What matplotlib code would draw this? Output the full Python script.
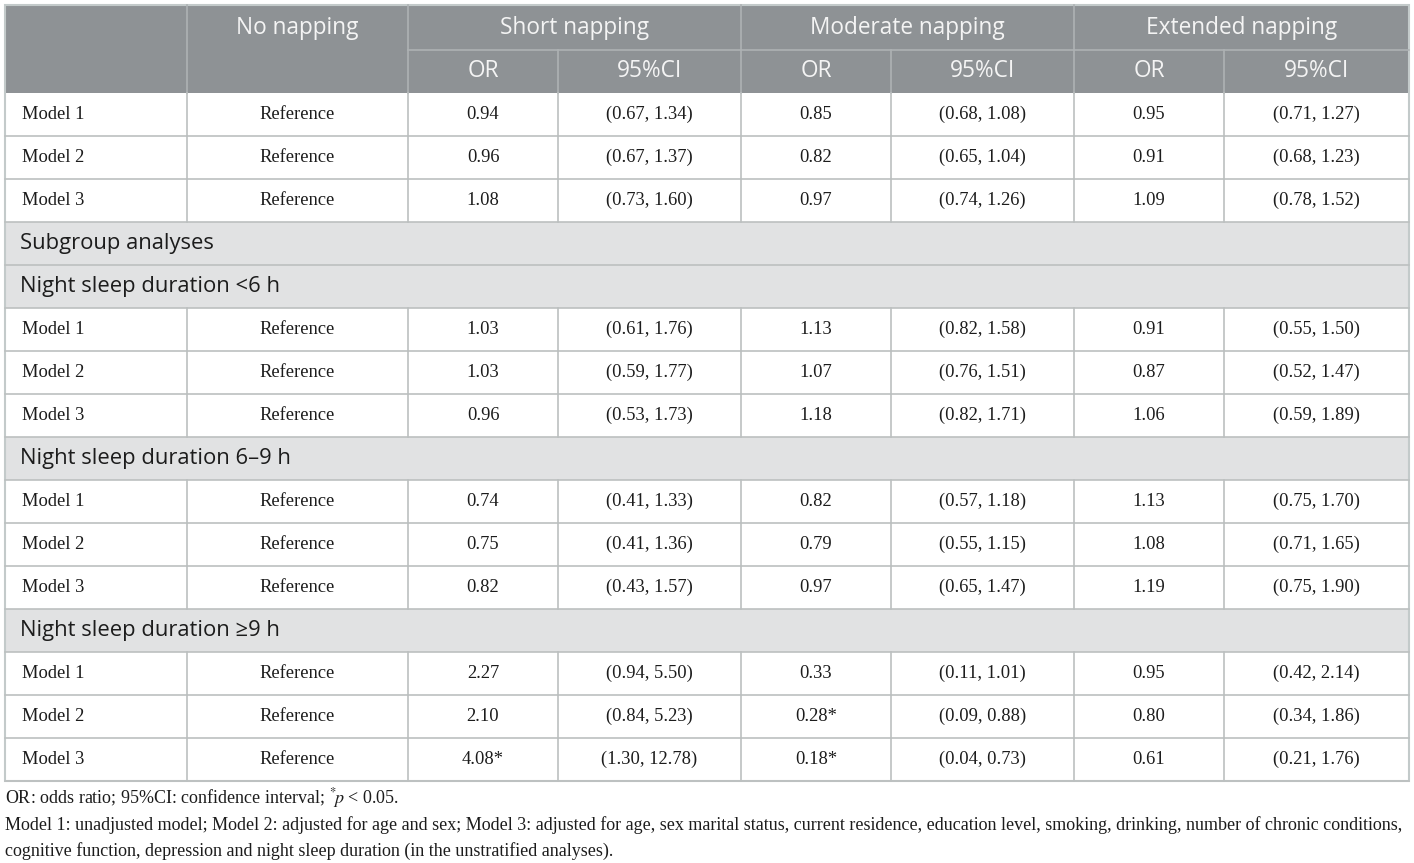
import matplotlib.pyplot as plt
from matplotlib.patches import Rectangle

plt.rcParams['mathtext.fontset'] = 'stix'

# ---- table content ----
groups = ['No napping', 'Short napping', 'Moderate napping', 'Extended napping']
sub_headers = ['OR', '95%CI']
section_titles = ['Subgroup analyses', 'Night sleep duration <6 h',
                  'Night sleep duration 6–9 h', 'Night sleep duration \u22659 h']
models = ['Model 1', 'Model 2', 'Model 3']

overall_or = [['0.94', '0.85', '0.95'], ['0.96', '0.82', '0.91'], ['1.08', '0.97', '1.09']]
overall_ci = [['(0.67, 1.34)', '(0.68, 1.08)', '(0.71, 1.27)'],
              ['(0.67, 1.37)', '(0.65, 1.04)', '(0.68, 1.23)'],
              ['(0.73, 1.60)', '(0.74, 1.26)', '(0.78, 1.52)']]
lt6_or = [['1.03', '1.13', '0.91'], ['1.03', '1.07', '0.87'], ['0.96', '1.18', '1.06']]
lt6_ci = [['(0.61, 1.76)', '(0.82, 1.58)', '(0.55, 1.50)'],
          ['(0.59, 1.77)', '(0.76, 1.51)', '(0.52, 1.47)'],
          ['(0.53, 1.73)', '(0.82, 1.71)', '(0.59, 1.89)']]
mid_or = [['0.74', '0.82', '1.13'], ['0.75', '0.79', '1.08'], ['0.82', '0.97', '1.19']]
mid_ci = [['(0.41, 1.33)', '(0.57, 1.18)', '(0.75, 1.70)'],
          ['(0.41, 1.36)', '(0.55, 1.15)', '(0.71, 1.65)'],
          ['(0.43, 1.57)', '(0.65, 1.47)', '(0.75, 1.90)']]
ge9_or = [['2.27', '0.33', '0.95'], ['2.10', '0.28*', '0.80'], ['4.08*', '0.18*', '0.61']]
ge9_ci = [['(0.94, 5.50)', '(0.11, 1.01)', '(0.42, 2.14)'],
          ['(0.84, 5.23)', '(0.09, 0.88)', '(0.34, 1.86)'],
          ['(1.30, 12.78)', '(0.04, 0.73)', '(0.21, 1.76)']]

footnote1 = r'OR: odds ratio; 95%CI: confidence interval; $^{*}\!p$ < 0.05.'
footnote2 = ('Model 1: unadjusted model; Model 2: adjusted for age and sex; Model 3: adjusted for age, '
             'sex marital status, current residence, education level, smoking, drinking, number of chronic conditions,')
footnote3 = 'cognitive function, depression and night sleep duration (in the unstratified analyses).'

# ---- layout (pixels) ----
W, H = 1414, 863
col_x = [5, 187, 408, 558, 741, 891, 1074, 1224, 1409]
row_h = 43
head_bg = '#8e9295'
head_line = '#aeb2b4'
sub_bg = '#e1e2e3'
grid_c = '#bcc0c0'
txt_c = '#1c1c1c'
serif = 'Liberation Serif'
sans = 'Open Sans'
body_fs = 13.3
head_fs = 16.3
sec_fs = 15.8

fig = plt.figure(figsize=(W / 100, H / 100), dpi=100)
ax = fig.add_axes([0, 0, 1, 1])
ax.set_xlim(0, W)
ax.set_ylim(H, 0)
ax.axis('off')

# header
ax.add_patch(Rectangle((col_x[0], 5), col_x[-1] - col_x[0], 88, color=head_bg, lw=0))
ax.text((col_x[1] + col_x[2]) / 2, 28, groups[0], ha='center', va='center',
        family=sans, fontsize=head_fs, color='#f4f4f4')
for g in range(3):
    x0, x1 = col_x[2 + 2 * g], col_x[4 + 2 * g]
    ax.text((x0 + x1) / 2, 28, groups[g + 1], ha='center', va='center',
            family=sans, fontsize=head_fs, color='#f4f4f4')
    for k in range(2):
        a, b = col_x[2 + 2 * g + k], col_x[3 + 2 * g + k]
        ax.text((a + b) / 2, 71, sub_headers[k], ha='center', va='center',
                family=sans, fontsize=head_fs, color='#f4f4f4')
    ax.plot([x0, x1], [50, 50], color=head_line, lw=1.2)
    ax.plot([col_x[3 + 2 * g]] * 2, [50, 93], color=head_line, lw=1.2)
for x in [col_x[1], col_x[2], col_x[4], col_x[6]]:
    ax.plot([x, x], [5, 93], color=head_line, lw=1.2)

# body
y = 93


def data_block(y, ors, cis):
    for i, m in enumerate(models):
        cy = y + row_h / 2
        ax.text(col_x[0] + 17, cy, m, ha='left', va='center', family=serif, fontsize=body_fs, color=txt_c)
        ax.text((col_x[1] + col_x[2]) / 2, cy, 'Reference', ha='center', va='center',
                family=serif, fontsize=body_fs, color=txt_c)
        for g in range(3):
            a, b, c = col_x[2 + 2 * g], col_x[3 + 2 * g], col_x[4 + 2 * g]
            ax.text((a + b) / 2, cy, ors[i][g], ha='center', va='center', family=serif,
                    fontsize=body_fs, color=txt_c)
            ax.text((b + c) / 2, cy, cis[i][g], ha='center', va='center', family=serif,
                    fontsize=body_fs, color=txt_c)
        for x in col_x[1:-1]:
            ax.plot([x, x], [y, y + row_h], color=grid_c, lw=1.2)
        y += row_h
        ax.plot([col_x[0], col_x[-1]], [y, y], color=grid_c, lw=1.2)
    return y


def section_row(y, title):
    ax.add_patch(Rectangle((col_x[0], y), col_x[-1] - col_x[0], row_h, color=sub_bg, lw=0))
    ax.text(col_x[0] + 15, y + row_h / 2, title, ha='left', va='center', family=sans,
            fontsize=sec_fs, color=txt_c)
    y += row_h
    ax.plot([col_x[0], col_x[-1]], [y, y], color=grid_c, lw=1.2)
    return y


y = data_block(y, overall_or, overall_ci)
y = section_row(y, section_titles[0])
y = section_row(y, section_titles[1])
y = data_block(y, lt6_or, lt6_ci)
y = section_row(y, section_titles[2])
y = data_block(y, mid_or, mid_ci)
y = section_row(y, section_titles[3])
y = data_block(y, ge9_or, ge9_ci)

# outer border
ax.add_patch(Rectangle((col_x[0], 5), col_x[-1] - col_x[0], y - 5, fill=False,
                       edgecolor='#c3caca', lw=1.5))

# footnotes
ax.text(5, 798, footnote1, ha='left', va='center', family=serif, fontsize=13, color=txt_c)
ax.text(5, 825, footnote2, ha='left', va='center', family=serif, fontsize=13, color=txt_c)
ax.text(5, 851, footnote3, ha='left', va='center', family=serif, fontsize=13, color=txt_c)

fig.savefig('out.png', dpi=100)
